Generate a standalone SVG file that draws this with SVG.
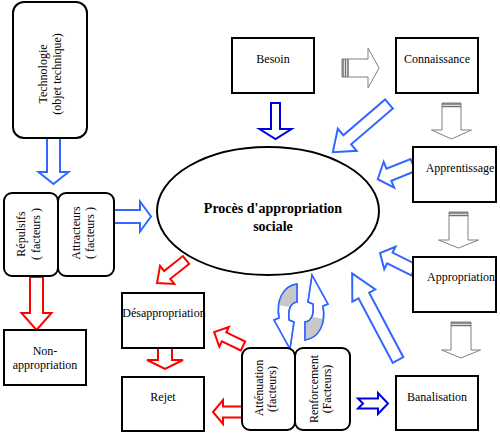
<svg xmlns="http://www.w3.org/2000/svg" width="500" height="436" viewBox="0 0 500 436">
<style>
text{font-family:"Liberation Serif","Times New Roman",serif;font-size:12px;fill:#000;text-anchor:middle}
.t{font-weight:bold;font-size:14px}
.box{fill:#fff;stroke:#000;stroke-width:2}
.lb{fill:#fff;stroke:#3366ff;stroke-width:2;stroke-linejoin:miter}
.db{fill:#fff;stroke:#0000dd;stroke-width:2}
.rd{fill:#fff;stroke:#ff0000;stroke-width:2}
.gr{fill:#fff;stroke:#808080;stroke-width:1}
.st{stroke:#707070;stroke-width:1.5;fill:none}
.cy{fill:#fff;stroke:#3366ff;stroke-width:1.5}
.cg{fill:#c8c8c8;stroke:none}
</style>
<rect width="500" height="436" fill="#fff"/>
<g id="connectors">
<path class="lb" transform="translate(53.5,138) rotate(90)" d="M0,-6.5L34,-6.5L34,-15L46,0L34,15L34,6.5L0,6.5Z"/>
<path class="lb" transform="translate(114,216.5)" d="M0,-6.5L26,-6.5L26,-15L37,0L26,15L26,6.5L0,6.5Z"/>
<path class="rd" transform="translate(36.5,277) rotate(90)" d="M0,-6.5L36,-6.5L36,-15L53,0L36,15L36,6.5L0,6.5Z"/>
<path class="rd" transform="translate(186,260) rotate(141.6)" d="M0,-5L24,-5L24,-11.5L37,0L24,11.5L24,5L0,5Z"/>
<path class="rd" transform="translate(165,348) rotate(90)" d="M0,-7L12,-7L12,-18L21,0L12,18L12,7L0,7Z"/>
<path class="rd" transform="translate(243,346) rotate(-154.2)" d="M0,-5L21,-5L21,-11L32,0L21,11L21,5L0,5Z"/>
<path class="rd" transform="translate(243,412) rotate(180)" d="M0,-5.5L20,-5.5L20,-12L30,0L20,12L20,5.5L0,5.5Z"/>
<path class="db" transform="translate(275.5,103) rotate(90)" d="M0,-4.5L26,-4.5L26,-16L36,0L26,16L26,4.5L0,4.5Z"/>
<g transform="translate(342,68)"><path class="gr" d="M0,-9L26,-9L26,-20L37,0L26,20L26,9L0,9Z"/><path class="st" d="M1,-9V9M3.5,-9V9M6,-9V9"/></g>
<path class="lb" transform="translate(389,104) rotate(139.4)" d="M0,-6L55,-6L55,-14.5L74,0L55,14.5L55,6L0,6Z"/>
<g transform="translate(451.5,103) rotate(90)"><path class="gr" d="M0,-9.5L27,-9.5L27,-20L36,0L27,20L27,9.5L0,9.5Z"/><path class="st" d="M1,-9.5V9.5M3.5,-9.5V9.5"/></g>
<path class="lb" transform="translate(413,165) rotate(158)" d="M0,-6.5L26,-6.5L26,-14L38,0L26,14L26,6.5L0,6.5Z"/>
<g transform="translate(458.5,212) rotate(90)"><path class="gr" d="M0,-9.5L28,-9.5L28,-20L36,0L28,20L28,9.5L0,9.5Z"/><path class="st" d="M1,-9.5V9.5M3.5,-9.5V9.5"/></g>
<path class="lb" transform="translate(414,270) rotate(-153.4)" d="M0,-6L27,-6L27,-12.5L38,0L27,12.5L27,6L0,6Z"/>
<g transform="translate(461,322) rotate(90)"><path class="gr" d="M0,-10L28,-10L28,-19.5L36,0L28,19.5L28,10L0,10Z"/><path class="st" d="M1,-10V10M3.5,-10V10"/></g>
<path class="lb" transform="translate(398,360) rotate(-117.9)" d="M0,-6L73,-6L73,-13L98,0L73,13L73,6L0,6Z"/>
<path class="db" transform="translate(358,403.5)" d="M0,-5L20,-5L20,-10.5L30,0L20,10.5L20,5L0,5L5,0Z"/>
<g id="cycle">
<path class="cy" d="M297,284C283,286 276,300 279,318L274,320L290,349L294,322L289,320C288,310 290,303 297,302Z"/>
<path class="cg" d="M296.5,285C284,287 278.5,296 278.8,305L288.8,307C289.5,304 292.5,302.8 296.5,302.8Z"/>
<path class="cy" style="fill:none" d="M297,284C283,286 276,300 279,318L274,320L290,349L294,322L289,320C288,310 290,303 297,302Z"/>
<path class="cy" d="M305,340C319,338 326,324 323,306L328,304L312,275L308,302L313,304C314,314 312,321 305,322Z"/>
<path class="cg" d="M305.5,339C318,337 323.5,328 323.2,319L313.2,317C312.5,320 309.5,321.2 305.5,321.2Z"/>
<path class="cy" style="fill:none" d="M305,340C319,338 326,324 323,306L328,304L312,275L308,302L313,304C314,314 312,321 305,322Z"/>
</g>
</g>
<g id="technologie"><rect class="box" x="13" y="2" width="74" height="136" rx="11"/>
<text transform="translate(47,74) rotate(-90)">Technologie</text>
<text transform="translate(61,74) rotate(-90)">(objet technique)</text></g>
<g id="repulsifs"><rect class="box" x="4" y="193" width="54" height="83" rx="8"/>
<text transform="translate(25,234) rotate(-90)">Répulsifs</text>
<text transform="translate(40,234) rotate(-90)">( facteurs )</text></g>
<g id="attracteurs"><rect class="box" x="58" y="193" width="56" height="83" rx="8"/>
<text transform="translate(80,233) rotate(-90)">Attracteurs</text>
<text transform="translate(94,233) rotate(-90)">( facteurs )</text></g>
<g id="non-appropriation"><rect class="box" x="4" y="330" width="82" height="55"/>
<text x="45" y="355">Non-</text><text x="45" y="369">appropriation</text></g>
<g id="desappropriation"><rect class="box" x="122" y="293" width="82" height="55"/>
<text x="164" y="317">Désappropriation</text></g>
<g id="rejet"><rect class="box" x="122" y="377" width="82" height="54"/>
<text x="163" y="401">Rejet</text></g>
<g id="processus"><ellipse cx="268" cy="211" rx="111" ry="64" fill="#fff" stroke="#000" stroke-width="2"/>
<text class="t" x="273" y="213">Procès d'appropriation</text>
<text class="t" x="273" y="231">sociale</text></g>
<g id="besoin"><rect class="box" x="232" y="38" width="82" height="55"/>
<text x="273" y="63">Besoin</text></g>
<g id="connaissance"><rect class="box" x="396" y="38" width="82" height="55"/>
<text x="437" y="63">Connaissance</text></g>
<g id="apprentissage"><rect class="box" x="413" y="147" width="83" height="55"/>
<text x="460" y="172">Apprentissage</text></g>
<g id="appropriation"><rect class="box" x="413" y="257" width="83" height="55"/>
<text x="461" y="281">Appropriation</text></g>
<g id="banalisation"><rect class="box" x="396" y="376" width="82" height="54"/>
<text x="437" y="401">Banalisation</text></g>
<g id="attenuation"><rect class="box" x="242" y="348" width="53" height="82" rx="8"/>
<text transform="translate(263,388) rotate(-90)">Atténuation</text>
<text transform="translate(276,389) rotate(-90)">(facteurs)</text></g>
<g id="renforcement"><rect class="box" x="295" y="348" width="55" height="82" rx="8"/>
<text transform="translate(318,389) rotate(-90)">Renforcement</text>
<text transform="translate(331,389) rotate(-90)">(Facteurs)</text></g>
</svg>
